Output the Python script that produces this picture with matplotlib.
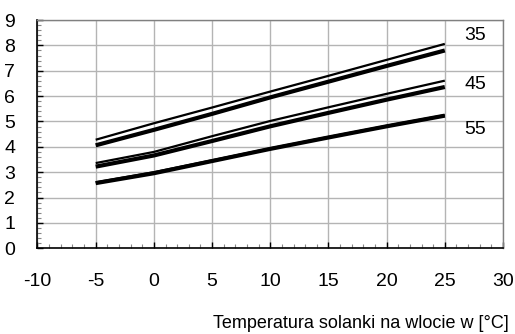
import matplotlib
matplotlib.use("Agg")
import matplotlib.pyplot as plt
from matplotlib.ticker import MultipleLocator

plt.rcParams['font.family'] = ['Liberation Sans', 'DejaVu Sans']
plt.rcParams['axes.unicode_minus'] = False

# Brine inlet temperature [°C]
brine_temp = [-5, 0, 5, 10, 15, 20, 25]

# Flow temperature 35 °C
out35_thin = [4.28, 4.93, 5.55, 6.18, 6.80, 7.43, 8.06]
out35_thick = [4.06, 4.67, 5.30, 5.95, 6.57, 7.19, 7.80]
# Flow temperature 45 °C
out45_thin = [3.36, 3.80, 4.42, 5.02, 5.56, 6.09, 6.61]
out45_thick = [3.22, 3.66, 4.23, 4.81, 5.34, 5.86, 6.36]
# Flow temperature 55 °C
out55_thin = [2.60, 3.00, 3.47, 3.94, 4.39, 4.83, 5.25]
out55_thick = [2.57, 2.96, 3.44, 3.92, 4.37, 4.81, 5.23]

curve_labels = ["35", "45", "55"]
label_pos = [(27.6, 8.38), (27.6, 6.45), (27.6, 4.67)]

xlabel = "Temperatura solanki na wlocie w [°C]"

fig = plt.figure(figsize=(5.15, 3.34), dpi=100)
ax = fig.add_axes([0.0728, 0.2566, 0.9039, 0.6834])

ax.set_xlim(-10, 30)
ax.set_ylim(0, 9)

ax.xaxis.set_major_locator(MultipleLocator(5))
ax.xaxis.set_minor_locator(MultipleLocator(1))
ax.yaxis.set_major_locator(MultipleLocator(1))
ax.yaxis.set_minor_locator(MultipleLocator(0.2))

ax.grid(True, which='major', color='#b4b4b4', linewidth=1.0)
ax.set_axisbelow(True)

ax.tick_params(axis='both', which='major', direction='in', length=4, width=1,
               color='black', labelsize=14)
ax.tick_params(axis='x', which='major', pad=18)
ax.tick_params(axis='y', which='major', pad=16)
ax.tick_params(axis='both', which='minor', direction='in', length=3, width=0.8,
               color='#888888')
ax.tick_params(top=False, right=False, which='both')

for side in ('left', 'bottom'):
    ax.spines[side].set_color('black')
    ax.spines[side].set_linewidth(1.2)
for side in ('top', 'right'):
    ax.spines[side].set_color('#808080')
    ax.spines[side].set_linewidth(1.0)

thin_w, thick_w = 1.6, 3.0
ax.plot(brine_temp, out35_thin, color='black', lw=thin_w, solid_capstyle='butt')
ax.plot(brine_temp, out35_thick, color='black', lw=thick_w, solid_capstyle='butt')
ax.plot(brine_temp, out45_thin, color='black', lw=thin_w, solid_capstyle='butt')
ax.plot(brine_temp, out45_thick, color='black', lw=thick_w, solid_capstyle='butt')
ax.plot(brine_temp, out55_thin, color='black', lw=thin_w, solid_capstyle='butt')
ax.plot(brine_temp, out55_thick, color='black', lw=thick_w, solid_capstyle='butt')

for text, (x, y) in zip(curve_labels, label_pos):
    ax.text(x, y, text, fontsize=14, ha='center', va='center')

fig.text(0.988, 0.018, xlabel, fontsize=13, ha='right', va='baseline')

fig.savefig("out.png", dpi=100)
